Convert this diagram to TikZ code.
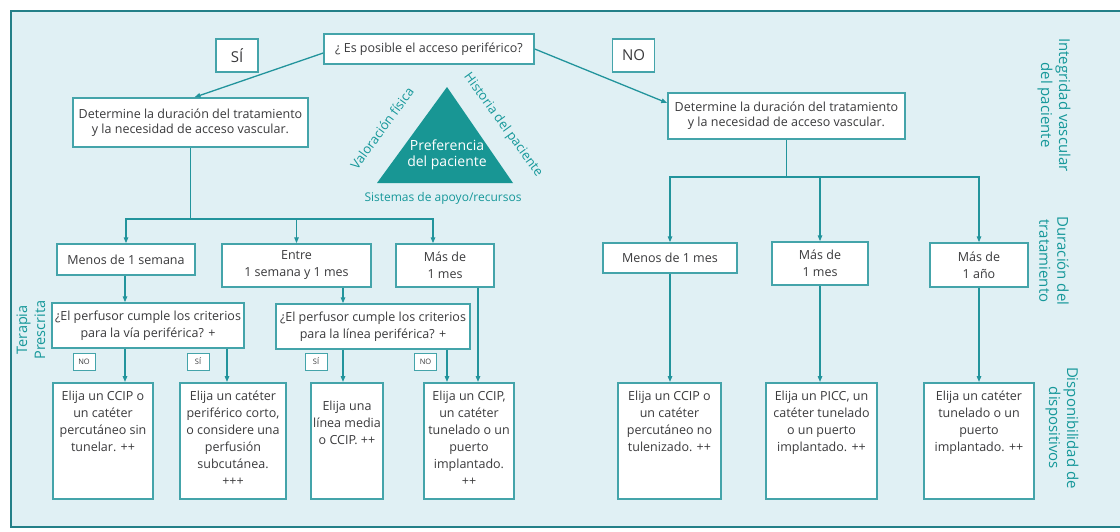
\documentclass[tikz,border=0pt]{standalone}
\usepackage{fontspec}
\setmainfont{Open Sans}
\usepackage{xcolor}
\usetikzlibrary{arrows.meta,positioning,calc}
\definecolor{framebg}{RGB}{224,240,244}
\definecolor{frameline}{RGB}{36,128,136}
\definecolor{flowline}{RGB}{34,148,156}
\definecolor{boxline}{RGB}{68,164,170}
\definecolor{labeltext}{RGB}{22,152,154}
\definecolor{trifill}{RGB}{24,150,148}
\definecolor{boxtext}{RGB}{58,58,60}
\newcommand{\boxfont}{\fontsize{12.5}{17}\selectfont}
\newcommand{\sidefont}{\fontsize{15}{18}\selectfont}
\newcommand{\choicetext}[2]{\parbox[c][100pt][t]{#1}{\centering #2}}
\tikzset{
  frame/.style={draw=frameline, fill=framebg, line width=2pt},
  box/.style={draw=boxline, fill=white, line width=1.5pt, align=center,
    inner sep=2pt, font=\boxfont, text=boxtext},
  answerbox/.style={box, minimum width=42pt, minimum height=33pt,
    font=\fontsize{15}{18}\selectfont},
  tagbox/.style={draw=boxline, fill=white, line width=1pt, inner sep=1pt,
    minimum width=22pt, minimum height=17pt, font=\fontsize{7.5}{9}\selectfont,
    text=boxtext},
  choice/.style={box, anchor=north, inner xsep=2pt, inner ysep=8pt},
  sidelabel/.style={font=\fontsize{13}{15}\selectfont, text=labeltext, inner sep=1pt},
  axislabel/.style={font=\sidefont, text=labeltext, align=center, inner sep=1pt},
  flow/.style={draw=flowline, line width=1.3pt},
  arrow/.style={flow, -{Triangle[length=6pt, width=4.5pt]}}
}

\begin{document}
\begin{tikzpicture}[x=1pt,y=-1pt]
  \useasboundingbox (0,0) rectangle (1120,531);
  \fill[white] (0,0) rectangle (1120,531);
  \draw[frame] (11,11) rectangle (1140,527);

  % top question and answers
  \node[box, minimum width=210pt, minimum height=30pt] (access) at (429,49)
    {¿ Es posible el acceso periférico?};
  \node[answerbox] (yes) at (237,55.5) {SÍ};
  \node[answerbox] (no) at (633.5,55.5) {NO};
  \node[box, minimum width=235pt, minimum height=49pt, font=\fontsize{12.5}{15}\selectfont]
    (durleft) at (190.5,122.5)
    {Determine la duración del tratamiento\\y la necesidad de acceso vascular.};
  \node[box, minimum width=237pt, minimum height=46pt, font=\fontsize{12.5}{15}\selectfont]
    (durright) at (786.5,116)
    {Determine la duración del tratamiento\\y la necesidad de acceso vascular.};
  \draw[arrow] ([yshift=-4pt]access.west) -- ([xshift=4pt]durleft.north);
  \draw[arrow] (access.east) -- ([yshift=13pt]durright.west);

  % triangle
  \coordinate (apex) at (447,87);
  \coordinate (baseL) at (377,183);
  \coordinate (baseR) at (513,183);
  \fill[trifill] (apex) -- (baseR) -- (baseL) -- cycle;
  \node[font=\fontsize{14}{16}\selectfont, text=white, align=center] (pref) at (447,155)
    {Preferencia\\del paciente};
  \node[sidelabel, rotate=54] (valor) at (382,128) {Valoración física};
  \node[sidelabel, rotate=-54] (hist) at (503,125) {Historia del paciente};
  \node[sidelabel, font=\fontsize{12}{14}\selectfont] (sist) at (443,198)
    {Sistemas de apoyo/recursos};

  % axis labels
  \node[axislabel, rotate=-90] (integ) at (1054,105) {Integridad vascular\\del paciente};
  \node[axislabel, rotate=-90] (durac) at (1054,261) {Duración del\\tratamiento};
  \node[axislabel, rotate=-90] (dispo) at (1062,428) {Disponibilidad de\\dispositivos};
  \node[axislabel, rotate=90, font=\fontsize{14.5}{18}\selectfont] (terapia) at (31,330)
    {Terapia\\Prescrita};

  % left branch
  \node[box, minimum width=138pt, minimum height=31pt] (week) at (126,259.5)
    {Menos de 1 semana};
  \node[box, minimum width=149pt, minimum height=43pt] (month) at (296.5,265.5)
    {Entre\\1 semana y 1 mes};
  \node[box, minimum width=98pt, minimum height=43pt] (overmonth) at (445,265.5)
    {Más de\\1 mes};
  \node[box, minimum width=192pt, minimum height=45pt] (critvia) at (148,325.5)
    {¿El perfusor cumple los criterios\\para la vía periférica? +};
  \node[box, minimum width=194pt, minimum height=45pt] (critlinea) at (373,326.5)
    {¿El perfusor cumple los criterios\\para la línea periférica? +};

  \node[choice] (ccipsin) at (103,382)
    {\choicetext{96pt}{Elija un CCIP o\\un catéter\\percutáneo sin\\tunelar. ++}};
  \node[choice] (corto) at (233,382)
    {\choicetext{102pt}{Elija un catéter\\periférico corto,\\o considere una\\perfusión\\subcutánea.\\+++}};
  \node[choice] (media) at (347,382)
    {\choicetext{68pt}{\vspace{10pt}Elija una\\línea media\\o CCIP. ++}};
  \node[choice] (tunel) at (469,382)
    {\choicetext{86pt}{Elija un CCIP,\\un catéter\\tunelado o un\\puerto\\implantado.\\++}};

  \node[tagbox] (tagno1) at (84,361.5) {NO};
  \node[tagbox] (tagsi1) at (198,361.5) {SÍ};
  \node[tagbox] (tagsi2) at (316,361.5) {SÍ};
  \node[tagbox] (tagno2) at (425.5,361.5) {NO};

  \coordinate (colA) at (125,0);
  \coordinate (colB) at (227,0);
  \coordinate (colC) at (343,0);
  \coordinate (colD) at (447,0);
  \coordinate (colE) at (478,0);
  \coordinate (forkL) at (190.5,219);
  \draw[flow] (durleft.south) -- (forkL);
  \draw[arrow] (forkL) -| (week.north);
  \draw[arrow] (forkL) -| (month.north);
  \draw[arrow] (forkL) -| ([xshift=-12pt]overmonth.north);
  \draw[arrow] (week.south -| colA) -- (critvia.north -| colA);
  \draw[arrow] (month.south -| colC) -- (critlinea.north -| colC);
  \draw[arrow] (critvia.south -| colA) -- (ccipsin.north -| colA);
  \draw[arrow] (critvia.south -| colB) -- (corto.north -| colB);
  \draw[arrow] (critlinea.south -| colC) -- (media.north -| colC);
  \draw[arrow] (critlinea.south -| colD) -- (tunel.north -| colD);
  \draw[arrow] (overmonth.south -| colE) -- (tunel.north -| colE);

  % right branch
  \node[box, minimum width=134pt, minimum height=30pt] (lessmonth) at (670,258)
    {Menos de 1 mes};
  \node[box, minimum width=96pt, minimum height=43pt] (moremonth) at (820,263.5)
    {Más de\\1 mes};
  \node[box, minimum width=98pt, minimum height=44pt] (moreyear) at (979,265)
    {Más de\\1 año};

  \node[choice] (ccipno) at (669.5,382)
    {\choicetext{99pt}{Elija un CCIP o\\un catéter\\percutáneo no\\tulenizado. ++}};
  \node[choice] (picc) at (821.5,382)
    {\choicetext{107pt}{Elija un PICC, un\\catéter tunelado\\o un puerto\\implantado. ++}};
  \node[choice] (tunelado) at (979,382)
    {\choicetext{106pt}{Elija un catéter\\tunelado o un\\puerto\\implantado. ++}};

  \coordinate (forkR) at (786.5,177);
  \draw[flow] (durright.south) -- (forkR);
  \draw[arrow] (forkR) -| (lessmonth.north);
  \draw[arrow] (forkR) -| (moremonth.north);
  \draw[arrow] (forkR) -| (moreyear.north);
  \draw[arrow] (lessmonth.south) -- (lessmonth.south |- ccipno.north);
  \draw[arrow] (moremonth.south) -- (moremonth.south |- picc.north);
  \draw[arrow] (moreyear.south) -- (moreyear.south |- tunelado.north);
\end{tikzpicture}
\end{document}
